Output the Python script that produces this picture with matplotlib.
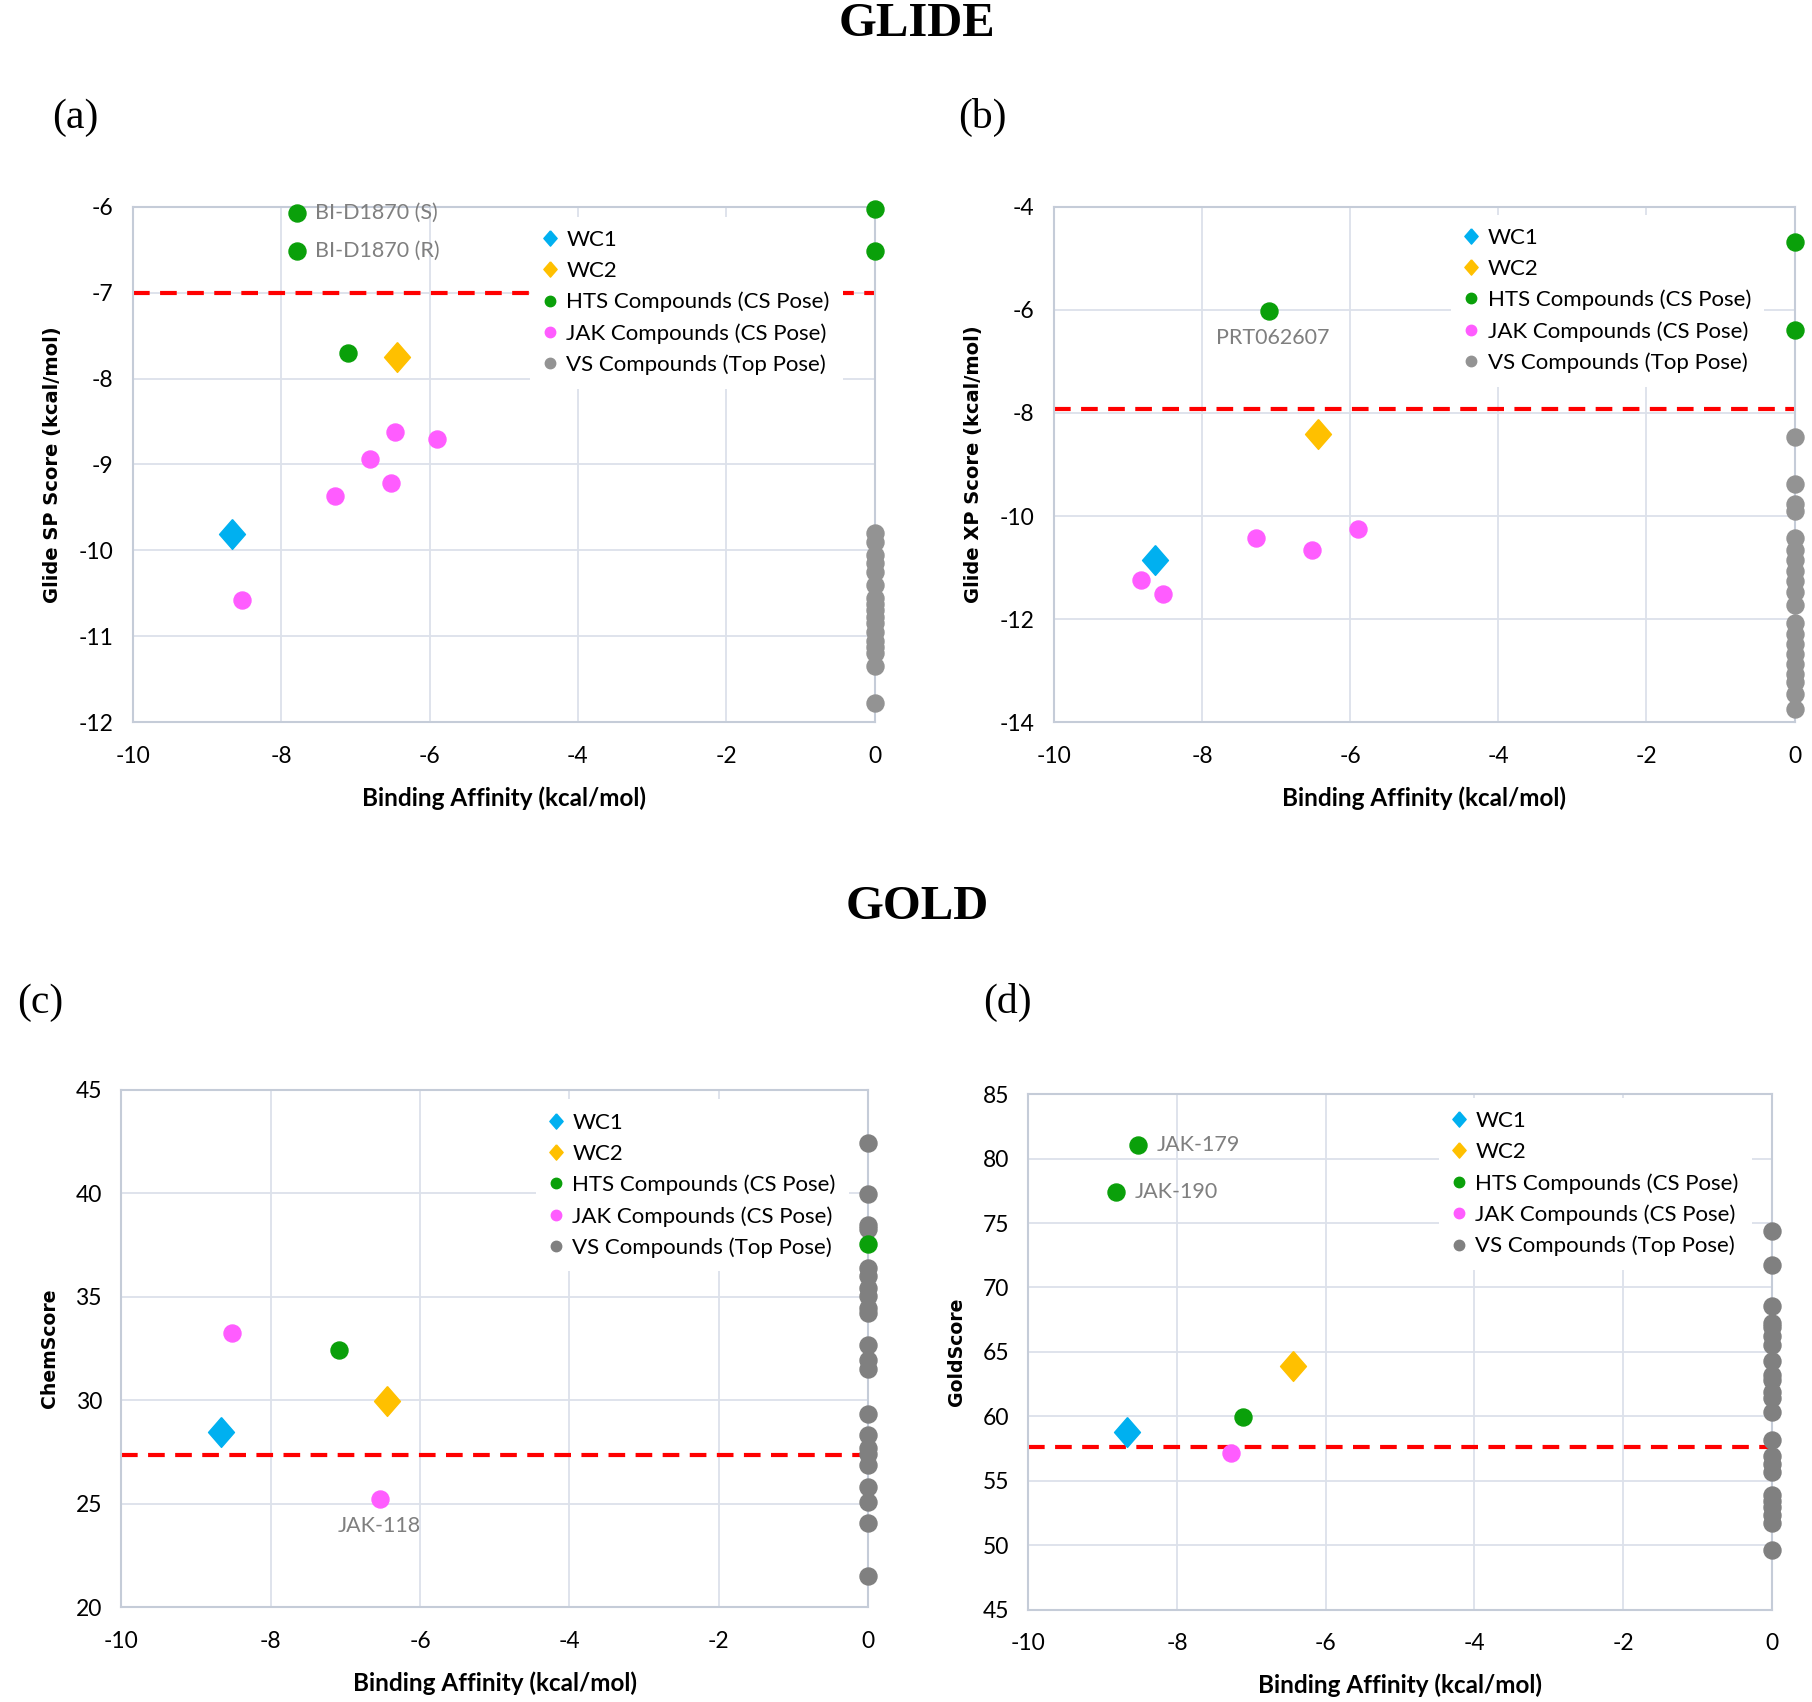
import matplotlib
matplotlib.use("Agg")
import matplotlib.pyplot as plt
from matplotlib.lines import Line2D

# ---- data ----
# (a) Glide SP
sp_wc1 = ([-8.66], [-9.81])
sp_wc2 = ([-6.44], [-7.75])
sp_hts_x = [-7.79, -7.79, -7.10, 0, 0]
sp_hts_y = [-6.07, -6.51, -7.70, -6.02, -6.51]
sp_jak_x = [-6.47, -5.90, -6.80, -6.52, -7.28, -8.53]
sp_jak_y = [-8.62, -8.70, -8.94, -9.22, -9.37, -10.58]
sp_vs_y = [-9.80, -9.90, -10.05, -10.15, -10.25, -10.40, -10.55, -10.62, -10.70,
           -10.78, -10.85, -10.95, -11.05, -11.12, -11.20, -11.35, -11.78]
sp_cut = -7.0

# (b) Glide XP
xp_wc1 = ([-8.64], [-10.86])
xp_wc2 = ([-6.43], [-8.41])
xp_hts_x = [-7.09, 0, 0]
xp_hts_y = [-6.02, -4.69, -6.40]
xp_jak_x = [-7.27, -6.52, -5.89, -8.83, -8.53]
xp_jak_y = [-10.43, -10.65, -10.26, -11.25, -11.51]
xp_vs_y = [-8.47, -9.38, -9.77, -9.90, -10.42, -10.65, -10.85, -11.07, -11.27,
           -11.47, -11.73, -12.08, -12.28, -12.48, -12.67, -12.87, -13.06,
           -13.22, -13.45, -13.75]
xp_cut = -7.93

# (c) ChemScore
cs_wc1 = ([-8.67], [28.47])
cs_wc2 = ([-6.44], [29.95])
cs_hts_x = [-7.09, 0]
cs_hts_y = [32.41, 37.55]
cs_jak_x = [-8.52, -6.53]
cs_jak_y = [33.26, 25.22]
cs_vs_y = [42.43, 39.97, 38.47, 38.27, 36.39, 35.99, 35.40, 35.04, 34.44, 34.21,
           32.68, 31.93, 31.50, 29.34, 28.31, 27.71, 27.38, 26.88, 25.79, 25.10,
           24.09, 21.51]
cs_cut = 27.34

# (d) GoldScore
gs_wc1 = ([-8.67], [58.75])
gs_wc2 = ([-6.44], [63.91])
gs_hts_x = [-8.52, -8.82, -7.12]
gs_hts_y = [81.02, 77.40, 59.93]
gs_jak_x = [-7.27]
gs_jak_y = [57.16]
gs_vs_y = [74.41, 71.76, 68.58, 67.28, 66.96, 66.23, 65.53, 64.26, 63.24, 62.82,
           61.87, 61.46, 60.37, 58.15, 56.94, 56.30, 55.67, 53.92, 53.44, 52.96,
           52.32, 51.75, 49.65]
gs_cut = 57.64

legend_labels = ["WC1", "WC2", "HTS Compounds (CS Pose)",
                 "JAK Compounds (CS Pose)", "VS Compounds (Top Pose)"]

BLUE = "#00B0F0"
ORANGE = "#FFC000"
GREEN = "#0AA00A"
PINK = "#FF5CFF"
GRID = "#DCE1EA"
SPINE = "#C5CCD8"
NOTE = "#7F7F7F"

# Excel style diamond, a little taller than wide
DIAMOND = [(0, 1), (0.87, 0), (0, -1), (-0.87, 0), (0, 1)]

plt.rcParams["font.family"] = ["Lato", "DejaVu Sans"]
plt.rcParams["axes.unicode_minus"] = False

fig = plt.figure(figsize=(18.12, 17.02), dpi=100)


def panel(rect, wc1, wc2, hts_x, hts_y, jak_x, jak_y, vs_y, cut, ylim, ystep,
          ylabel, ylabel_size, grey, leg_anchor):
    ax = fig.add_axes(rect)
    ax.set_xlim(-10, 0)
    ax.set_ylim(*ylim)
    ax.set_xticks(range(-10, 1, 2))
    ax.set_yticks(range(ylim[0], ylim[1] + 1, ystep))
    ax.grid(True, color=GRID, lw=1.3, zorder=0)
    ax.set_axisbelow(True)
    for s in ax.spines.values():
        s.set_color(SPINE)
        s.set_linewidth(1.5)
    ax.tick_params(length=0, labelsize=16.5)
    ax.tick_params(axis="x", pad=17)
    ax.tick_params(axis="y", pad=14)

    ax.axhline(cut, color="#FF0000", lw=3, ls=(0, (4, 2.5)), zorder=2)

    ax.scatter([0] * len(vs_y), vs_y, s=150, color=grey, zorder=3, clip_on=False)
    ax.scatter(jak_x, jak_y, s=150, color=PINK, zorder=4, clip_on=False)
    ax.scatter(hts_x, hts_y, s=150, color=GREEN, zorder=4, clip_on=False)
    ax.scatter(*wc1, s=460, marker=DIAMOND, color=BLUE, zorder=5)
    ax.scatter(*wc2, s=460, marker=DIAMOND, color=ORANGE, zorder=5)

    handles = [
        Line2D([], [], ls="", marker=DIAMOND, ms=11, color=BLUE),
        Line2D([], [], ls="", marker=DIAMOND, ms=11, color=ORANGE),
        Line2D([], [], ls="", marker="o", ms=7.5, color=GREEN),
        Line2D([], [], ls="", marker="o", ms=7.5, color=PINK),
        Line2D([], [], ls="", marker="o", ms=7.5, color=grey),
    ]
    leg = ax.legend(handles, legend_labels, loc="upper left", bbox_to_anchor=leg_anchor,
                    fontsize=16, frameon=True, framealpha=1, facecolor="white",
                    edgecolor="none", handlelength=0.6, handletextpad=0.45,
                    labelspacing=0.49, borderpad=0.6, borderaxespad=0)
    leg.set_zorder(6)

    ax.set_xlabel("Binding Affinity (kcal/mol)", fontsize=17.5, fontweight="bold", labelpad=14)
    ax.set_ylabel(ylabel, fontsize=ylabel_size, fontweight="bold", family="DejaVu Sans",
                  labelpad=12)
    return ax


ax_a = panel([0.0733, 0.5757, 0.4094, 0.3028], sp_wc1, sp_wc2, sp_hts_x, sp_hts_y,
             sp_jak_x, sp_jak_y, sp_vs_y, sp_cut, (-12, -6), 1,
             "Glide SP Score (kcal/mol)", 14, "#939393", (0.535, 0.981))
ax_a.text(-7.55, -6.07, "BI-D1870 (S)", color=NOTE, fontsize=15.5, va="center")
ax_a.text(-7.55, -6.51, "BI-D1870 (R)", color=NOTE, fontsize=15.5, va="center")

ax_b = panel([0.5816, 0.5757, 0.4088, 0.3028], xp_wc1, xp_wc2, xp_hts_x, xp_hts_y,
             xp_jak_x, xp_jak_y, xp_vs_y, xp_cut, (-14, -4), 2,
             "Glide XP Score (kcal/mol)", 14, "#939393", (0.536, 0.985))
ax_b.text(-7.05, -6.55, "PRT062607", color=NOTE, fontsize=15.5, ha="center", va="center")

ax_c = panel([0.0670, 0.0557, 0.4120, 0.3041], cs_wc1, cs_wc2, cs_hts_x, cs_hts_y,
             cs_jak_x, cs_jak_y, cs_vs_y, cs_cut, (20, 45), 5,
             "ChemScore", 13.6, "#808080", (0.555, 0.981))
ax_c.text(-6.55, 23.9, "JAK-118", color=NOTE, fontsize=15.5, ha="center", va="center")

ax_d = panel([0.5676, 0.0543, 0.4101, 0.3028], gs_wc1, gs_wc2, gs_hts_x, gs_hts_y,
             gs_jak_x, gs_jak_y, gs_vs_y, gs_cut, (45, 85), 5,
             "GoldScore", 13.6, "#808080", (0.552, 0.993))
ax_d.text(-8.27, 81.02, "JAK-179", color=NOTE, fontsize=15.5, va="center")
ax_d.text(-8.57, 77.40, "JAK-190", color=NOTE, fontsize=15.5, va="center")

serif = ["Liberation Serif", "DejaVu Serif"]
fig.text(0.506, 0.986, "GLIDE", family=serif, fontsize=35, fontweight="bold", ha="center", va="center")
fig.text(0.506, 0.467, "GOLD", family=serif, fontsize=35, fontweight="bold", ha="center", va="center")
fig.text(0.0415, 0.931, "(a)", family=serif, fontsize=30, ha="center", va="center")
fig.text(0.542, 0.931, "(b)", family=serif, fontsize=30, ha="center", va="center")
fig.text(0.0223, 0.411, "(c)", family=serif, fontsize=30, ha="center", va="center")
fig.text(0.556, 0.411, "(d)", family=serif, fontsize=30, ha="center", va="center")

fig.savefig("out.png", dpi=100, facecolor="white")
